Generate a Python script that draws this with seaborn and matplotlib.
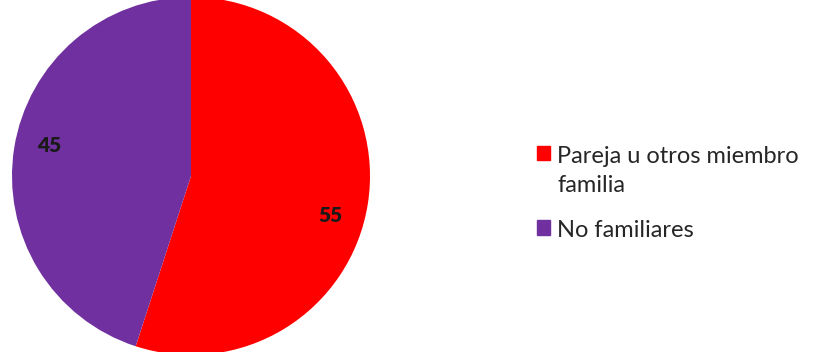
import matplotlib
matplotlib.use("Agg")
import numpy as np
import matplotlib.pyplot as plt
import seaborn as sns
from matplotlib.patches import Patch

# Data
categories = ["Pareja u otros miembro\nfamilia", "No familiares"]
values = [55, 45]
colors = ["#FF0000", "#7030A0"]

sns.set_theme(style="white")
plt.rcParams['font.family'] = ['Lato', 'DejaVu Sans']

fig = plt.figure(figsize=(8.24, 3.52), dpi=100)
ax = fig.add_axes([0, 0, 1, 1])
ax.set_aspect('equal')
ax.axis('off')

cx, cy, r = 191, 176, 179
wedges, texts, autotexts = ax.pie(values, colors=colors, startangle=90, counterclock=False,
                                  center=(cx, cy), radius=r,
                                  autopct=lambda p: f"{p:.0f}", pctdistance=0.8,
                                  textprops=dict(fontsize=15, fontweight='heavy', color='#1a1a1a'),
                                  wedgeprops=dict(linewidth=0))
ax.set_xlim(0, 824)
ax.set_ylim(0, 352)

# nudge the value labels to where they sit in the original
for t, ang in zip(autotexts, [-16, 168]):
    a = np.deg2rad(ang)
    t.set_position((cx + 0.81 * r * np.cos(a), cy + 0.81 * r * np.sin(a)))

handles = [Patch(color=c, label=l) for c, l in zip(colors, categories)]
leg = fig.legend(handles=handles, loc='upper left', bbox_to_anchor=(537 / 824, 1 - 146 / 352),
                 frameon=False, fontsize=17, handlelength=0.55, handleheight=0.55,
                 handletextpad=0.3, labelspacing=1.05, labelcolor='#262626', borderpad=0,
                 borderaxespad=0)
for t in leg.get_texts():
    t.set_linespacing(1.45)

# keep the square marker next to the first line of the two-line label
for col in leg._legend_handle_box.get_children():
    for row in col.get_children():
        row.align = "top"

fig.savefig("out.png", dpi=100)
